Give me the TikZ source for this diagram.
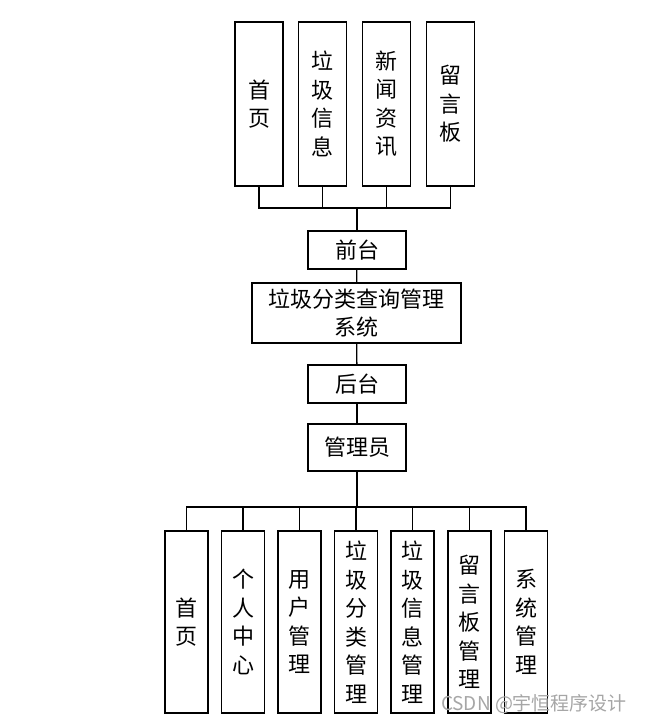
\documentclass[tikz,border=0pt]{standalone}
\usepackage{fontspec}
\setmainfont{Noto Sans CJK SC}
\usepackage{tikz}

\begin{document}
\begin{tikzpicture}[x=1pt,y=-1pt,
    box/.style={draw,line width=1.3pt,fill=white,align=center,inner sep=0pt,
      font=\fontsize{22}{28.5}\selectfont},
    upbox/.style={box,minimum width=48pt,minimum height=164pt},
    lowbox/.style={box,minimum width=43pt,minimum height=182pt},
    midbox/.style={box,minimum width=98pt,minimum height=38pt},
    link/.style={line width=1.3pt}]
    \useasboundingbox (0,0) rectangle (645,724);
    % front end
    \node[upbox] (t1) at (259,104) {首\\页};
    \node[upbox] (t2) at (322.5,104) {垃\\圾\\信\\息};
    \node[upbox] (t3) at (386.5,104) {新\\闻\\资\\讯};
    \node[upbox] (t4) at (450.5,104) {留\\言\\板};
    \coordinate (topbus) at (357,208);
    \node[midbox] (front) at (357,250) {前台};
    % system
    \node[box,minimum width=209pt,minimum height=60pt] (sys) at (356.5,313) {垃圾分类查询管理\\系统};
    % back end
    \node[midbox] (back) at (357,384) {后台};
    \node[midbox,minimum height=47pt] (admin) at (357,447.5) {管理员};
    \coordinate (lowbus) at (357,507);
    \node[lowbox] (b1) at (186.5,622) {首\\页};
    \node[lowbox] (b2) at (243,622) {个\\人\\中\\心};
    \node[lowbox] (b3) at (299.5,622) {用\\户\\管\\理};
    \node[lowbox] (b4) at (356,622) {垃\\圾\\分\\类\\管\\理};
    \node[lowbox] (b5) at (412.5,622) {垃\\圾\\信\\息\\管\\理};
    \node[lowbox] (b6) at (469.5,622) {留\\言\\板\\管\\理};
    \node[lowbox] (b7) at (526,622) {系\\统\\管\\理};
    % links
    \foreach \t in {t1,t2,t3,t4}
      \draw[link] (\t.south) |- (topbus);
    \draw[link] (topbus) -- (front.north);
    \draw[link] (front) -- (sys);
    \draw[link] (sys) -- (back);
    \draw[link] (back) -- (admin);
    \draw[link] (admin.south) -- (lowbus);
    \foreach \b in {b1,b2,b3,b4,b5,b6,b7}
      \draw[link] (\b.north) |- (lowbus);
    \node[text=black!35,font=\fontsize{19}{19}\selectfont] (mark) at (534,704) {CSDN @宇恒程序设计};
\end{tikzpicture}
\end{document}
